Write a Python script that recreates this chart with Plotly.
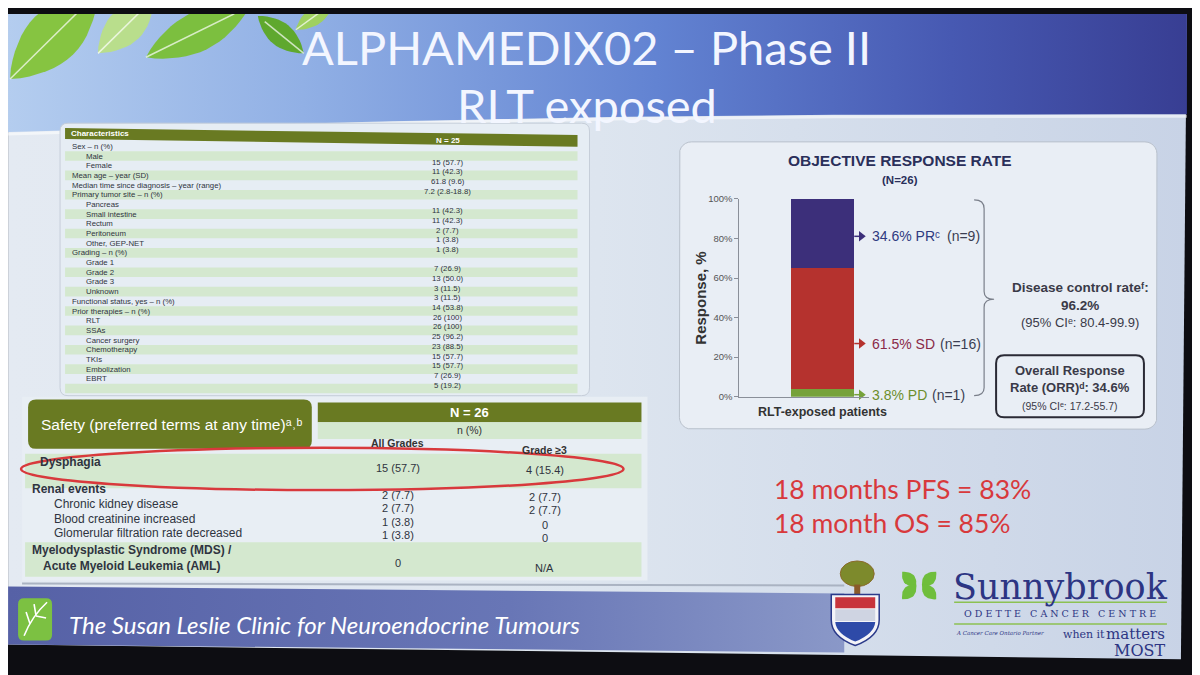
import math
import plotly.graph_objects as go

# ---------------- data ----------------
title_lines = ["ALPHAMEDIX02 – Phase II", "RLT exposed"]

char_header = ["Characteristics", "N = 25"]
char_labels = [
    "Sex – n (%)", "Male", "Female", "Mean age – year (SD)",
    "Median time since diagnosis – year (range)", "Primary tumor site – n (%)",
    "Pancreas", "Small intestine", "Rectum", "Peritoneum", "Other, GEP-NET",
    "Grading – n (%)", "Grade 1", "Grade 2", "Grade 3", "Unknown",
    "Functional status, yes – n (%)", "Prior therapies – n (%)",
    "RLT", "SSAs", "Cancer surgery", "Chemotherapy", "TKIs", "Embolization", "EBRT",
]
# on the slide the values sit one line lower than their labels, so one extra row
char_values = [
    "", "", "15 (57.7)", "11 (42.3)", "61.8 (9.6)", "7.2 (2.8-18.8)",
    "", "11 (42.3)", "11 (42.3)", "2 (7.7)", "1 (3.8)", "1 (3.8)",
    "", "7 (26.9)", "13 (50.0)", "3 (11.5)", "3 (11.5)", "14 (53.8)",
    "26 (100)", "26 (100)", "25 (96.2)", "23 (88.5)", "15 (57.7)", "15 (57.7)",
    "7 (26.9)", "5 (19.2)",
]

safety_title = "Safety (preferred terms at any time)ᵃ˒ᵇ"
safety_n = "N = 26"
safety_cols = ["All Grades", "Grade ≥3"]
safety_terms = [
    "Dysphagia", "Renal events", "Chronic kidney disease",
    "Blood creatinine increased", "Glomerular filtration rate decreased",
    "Myelodysplastic Syndrome (MDS) /<br>Acute Myeloid Leukemia (AML)",
]
safety_all = ["15 (57.7)", "2 (7.7)", "2 (7.7)", "1 (3.8)", "1 (3.8)", "0"]
safety_g3 = ["4 (15.4)", "2 (7.7)", "2 (7.7)", "0", "0", "N/A"]

orr_group = ["RLT-exposed patients"]
orr_types = ["PD", "SD", "PR"]
orr_pct = [3.8, 61.5, 34.6]
orr_n = [1, 16, 9]
orr_ticks = [0, 20, 40, 60, 80, 100]
dcr = "96.2%"
dcr_ci = "80.4-99.9"
orr_rate = "34.6%"
orr_ci = "17.2-55.7"

pfs_18 = "83%"
os_18 = "85%"

# ---------------- styling ----------------
BODY = "Liberation Sans"
TITLE = "Lato"
SERIF = "DejaVu Serif"
OLIVE = "#697a22"
STRIPE = "#d4e8cf"
INK = "#2f3440"
bar_colors = {"PD": "#76a23a", "SD": "#b5322e", "PR": "#3c2f7a"}
label_colors = {"PD": "#6e8e2c", "SD": "#8a2a48", "PR": "#2f3a80"}

# the page is photographed with an 8px body margin and squeezed back to 1200 wide,
# so the full-canvas overlay axis is set up to land on screen pixels
SC = 1200 / 1216


def dom_x(p):
    return (p / SC - 8) / 1200


def dom_y(p):
    return 1 - (p - 8) / 675


fig = go.Figure()
shapes = []
anns = []


def poly(xs, ys, color=None, grad=None, line=None, lw=0):
    tr = dict(x=xs, y=ys, mode="lines", fill="toself", hoverinfo="skip",
              showlegend=False, line=dict(width=lw, color=line or "rgba(0,0,0,0)"),
              xaxis="x", yaxis="y")
    if grad:
        tr["fillgradient"] = dict(type="horizontal", colorscale=grad)
    else:
        tr["fillcolor"] = color
    fig.add_trace(go.Scatter(**tr))


def rr_pts(x0, y0, x1, y1, r, n=6):
    xs, ys = [], []
    for cx, cy, a0 in [(x1 - r, y0 + r, -90), (x1 - r, y1 - r, 0),
                       (x0 + r, y1 - r, 90), (x0 + r, y0 + r, 180)]:
        for k in range(n + 1):
            a = math.radians(a0 + 90 * k / n)
            xs.append(cx + r * math.cos(a))
            ys.append(cy + r * math.sin(a))
    return xs + [xs[0]], ys + [ys[0]]


def rr_path(x0, y0, x1, y1, r):
    return (f"M{x0+r},{y0} L{x1-r},{y0} Q{x1},{y0} {x1},{y0+r} L{x1},{y1-r} "
            f"Q{x1},{y1} {x1-r},{y1} L{x0+r},{y1} Q{x0},{y1} {x0},{y1-r} "
            f"L{x0},{y0+r} Q{x0},{y0} {x0+r},{y0} Z")


def leaf_pts(x0, y0, x1, y1, w, n=16):
    L = math.hypot(x1 - x0, y1 - y0)
    ux, uy = (x1 - x0) / L, (y1 - y0) / L
    nx, ny = -uy, ux
    xs, ys = [], []
    for side in (1, -1):
        ks = range(n + 1) if side == 1 else range(n, -1, -1)
        for k in ks:
            t = k / n
            h = w / 2 * math.sin(math.pi * t) ** 0.85
            xs.append(x0 + ux * L * t + side * nx * h)
            ys.append(y0 + uy * L * t + side * ny * h)
    return xs, ys


def rect(x0, y0, x1, y1, fill, line=None, lw=0):
    shapes.append(dict(type="rect", xref="x", yref="y", x0=x0, y0=y0, x1=x1, y1=y1,
                       fillcolor=fill, layer="above",
                       line=dict(width=lw, color=line or "rgba(0,0,0,0)")))


def path(d, fill=None, line=None, lw=0):
    shapes.append(dict(type="path", xref="x", yref="y", path=d, layer="above",
                       fillcolor=fill or "rgba(0,0,0,0)",
                       line=dict(width=lw, color=line or "rgba(0,0,0,0)")))


def hline(x0, x1, y0, y1, color, w):
    shapes.append(dict(type="line", xref="x", yref="y", x0=x0, x1=x1, y0=y0, y1=y1,
                       line=dict(color=color, width=w), layer="above"))


def txt(x, y, s, size, color, anchor="left", family=BODY, bold=False, italic=False, **kw):
    anns.append(dict(x=x, y=y, xref="x", yref="y", text=s, showarrow=False,
                     xanchor=anchor, yanchor="middle",
                     font=dict(size=size, color=color, family=family,
                               weight="bold" if bold else "normal",
                               style="italic" if italic else "normal"), **kw))


# ---------------- slide background ----------------
poly([8, 1188, 1182, 8, 8], [0, 0, 664, 649, 0],
     grad=[[0, "#e4eaf2"], [0.5, "#dde5ef"], [1, "#c8d3e6"]])

# title band with curved lower edge
bx = [8 + 1180 * k / 40 for k in range(41)]
by = [128 - 18 * (x - 8) / 1180 - 6 * math.sin(math.pi * (x - 8) / 1180) for x in bx]
poly([8] + bx + [1188, 8], [0] + by + [0, 0],
     grad=[[0, "#b4cdef"], [0.25, "#91b0e5"], [0.55, "#6283d2"],
           [0.8, "#4759b2"], [1, "#383e93"]])
fig.add_trace(go.Scatter(x=bx, y=[v + 2 for v in by], mode="lines", hoverinfo="skip",
                         showlegend=False, line=dict(color="rgba(255,255,255,0.55)", width=3)))

# leaves top-left
for x0, y0, x1, y1, w, c in [(10, 74, 98, -14, 54, "#86c441"),
                             (98, 48, 154, -8, 36, "#b9de8c"),
                             (146, 52, 250, 0, 40, "#7cbf3f"),
                             (304, 48, 258, 10, 24, "#5fa82e"),
                             (296, 24, 334, -4, 18, "#9fd060")]:
    xs, ys = leaf_pts(x0, y0, x1, y1, w)
    poly(xs, ys, color=c)
    fig.add_trace(go.Scatter(x=[x0, x0 + (x1 - x0) * 0.85], y=[y0, y0 + (y1 - y0) * 0.85],
                             mode="lines", hoverinfo="skip", showlegend=False,
                             line=dict(color="rgba(255,255,255,0.7)", width=1.5)))

for i, s in enumerate(title_lines):
    txt(587, 42 + 58 * i, s, 47, "#f3f6ff", anchor="center", family=TITLE)

# footer band
poly([8, 845, 845, 8, 8], [590, 597, 657, 649, 590],
     grad=[[0, "#5661a6"], [0.6, "#6876b6"], [1, "#8a98c8"]])

# ORR card (sits under the bar subplot)
xs, ys = rr_pts(680, 138, 1158, 430, 12)
poly(xs, ys, color="#e9eef5", line="#b9c1cc", lw=1)

# ---------------- characteristics table ----------------
path(rr_path(60, 119, 590, 396, 8), fill="#e6edf4", line="#c6ced9", lw=1)
row0, step = 142.5, 9.85
for i in range(len(char_values)):
    if i % 2 == 1:
        rect(65, row0 + step * i - 4.9, 578, row0 + step * i + 4.9, STRIPE)
path("M65,124 L578,131 L578,143 L65,135 Z", fill=OLIVE)
txt(69, 129.5, char_header[0], 8, "white", bold=True)
txt(448, 136.5, char_header[1], 8, "white", anchor="center", bold=True)
for i, lab in enumerate(char_labels):
    indent = 0 if " – " in lab else 14
    txt(70 + indent, row0 + step * i, lab, 7.8, INK)
for i, v in enumerate(char_values):
    if v:
        txt(448, row0 + step * i - 3.5, v, 7.8, INK, anchor="center")

# ---------------- safety table ----------------
rect(22, 397, 648, 584, "#e8eef4")
hline(22, 845, 587, 589, "#aab3c2", 2)
path(rr_path(28, 400, 312, 450, 8), fill=OLIVE)
txt(172, 425, safety_title, 15.5, "white", anchor="center")
rect(318, 403, 642, 423, OLIVE)
txt(470, 413, safety_n, 13, "white", anchor="center", bold=True)
rect(318, 423, 642, 440, STRIPE)
txt(470, 431, "n (%)", 10.5, "#333", anchor="center")
txt(398, 444, safety_cols[0], 10.5, "#333", anchor="center", bold=True)
txt(545, 451, safety_cols[1], 10.5, "#333", anchor="center", bold=True)
rect(25, 455, 642, 490, STRIPE)
rect(25, 545, 642, 580, STRIPE)

term_x = [38, 30, 52, 52, 52, 30]
term_y = [463, 491, 506, 521, 536, 561]
all_y = [470, 497, 510, 524, 538, 566]
g3_y = [472, 499, 512, 527, 541, 571]
for i, term in enumerate(safety_terms):
    txt(term_x[i], term_y[i], term, 12, INK, bold=term_x[i] < 40)
    txt(398, all_y[i], safety_all[i], 11, INK, anchor="center")
    txt(545, g3_y[i], safety_g3[i], 11, INK, anchor="center")

shapes.append(dict(type="circle", xref="x", yref="y", x0=21, x1=624, y0=449, y1=492,
                   line=dict(color="#d8393c", width=2.5), layer="above"))

# ---------------- ORR chart ----------------
for t, p in zip(orr_types, orr_pct):
    fig.add_trace(go.Bar(x=orr_group, y=[p], width=0.49, xaxis="x2", yaxis="y2",
                         marker=dict(color=bar_colors[t], line=dict(width=0)),
                         showlegend=False, hoverinfo="skip"))

txt(901, 157, "OBJECTIVE RESPONSE RATE", 15.5, "#2a2f5a", anchor="center", bold=True)
txt(901, 177, "(N=26)", 11.5, "#2a2f5a", anchor="center", bold=True)
txt(701, 297, "Response, %", 15, "#333", anchor="center", bold=True, textangle=-90)

# pointer labels beside the bar
label_py = [395, 343, 234]
count_px = [931, 939, 946]
for t, p, n, ly, cx in zip(orr_types, orr_pct, orr_n, label_py, count_px):
    sup = "ᶜ" if t == "PR" else ""
    fig.add_trace(go.Scatter(x=[862], y=[ly], mode="markers", hoverinfo="skip",
                             showlegend=False, xaxis="x", yaxis="y",
                             marker=dict(symbol="triangle-right", size=9,
                                         color=bar_colors[t])))
    hline(855, 860, ly, ly, bar_colors[t], 1.5)
    txt(871, ly, f"{p}% {t}{sup}", 14, label_colors[t])
    txt(cx, ly, f"(n={n})", 14, "#3b3e52")

path("M975,197 Q985,197 985,206 L985,290 Q985,298 995,298 Q985,298 985,306 "
     "L985,388 Q985,396 975,396", line="#7a7f8a", lw=1.2)
txt(1081, 286, "Disease control rateᶠ:", 13.5, "#3a3a48", anchor="center", bold=True)
txt(1081, 304, dcr, 13.5, "#3a3a48", anchor="center", bold=True)
txt(1081, 322, f"(95% CIᵉ: {dcr_ci})", 13, "#3a3a48", anchor="center")
path(rr_path(997, 355, 1145, 418, 8), line="#2a2a35", lw=2)
txt(1071, 370, "Overall Response", 13, "#3a3a48", anchor="center", bold=True)
txt(1071, 388, f"Rate (ORR)ᵈ: {orr_rate}", 13, "#3a3a48", anchor="center", bold=True)
txt(1071, 406, f"(95% CIᵉ: {orr_ci})", 10.5, "#3a3a48", anchor="center")

# survival call-outs
txt(773, 491, f"18 months PFS = {pfs_18}", 26.5, "#d8393c", family=TITLE)
txt(773, 525, f"18 month OS = {os_18}", 26.5, "#d8393c", family=TITLE)

# ---------------- footer ----------------
path(rr_path(18, 602, 52, 645, 6), fill="#7cc142")
shapes.append(dict(type="path", xref="x", yref="y", layer="above",
                   path="M24,640 Q32,620 47,606 M30,628 L26,616 M36,620 L34,608 M36,620 L46,622",
                   line=dict(color="white", width=1.6)))
txt(67, 629, "The Susan Leslie Clinic for Neuroendocrine Tumours", 24, "white",
    family=TITLE, italic=True)

# crest
shapes.append(dict(type="circle", xref="x", yref="y", x0=841, x1=875, y0=564, y1=590,
                   fillcolor="#7d8a2c", line=dict(color="#8a6a2a", width=1), layer="above"))
rect(855, 588, 861, 598, "#8a5a2a")
path("M832,598 L880,598 L880,624 Q880,641 856,650 Q832,641 832,624 Z",
     fill="#f4f4f8", line="#2b3a8a", lw=1.5)
rect(836, 601, 876, 612, "#c8343c")
rect(836, 613, 876, 625, "#cfd4e2")
path("M836,626 L876,626 Q875,638 856,646 Q837,638 836,626 Z", fill="#2e4aa8")

# Sunnybrook logo
for x0, y0, x1, y1 in [(903, 575, 917, 590), (937, 575, 923, 590),
                       (903, 603, 917, 588), (937, 603, 923, 588)]:
    xs, ys = leaf_pts(x1, y1, x0, y0, 12)
    poly(xs, ys, color="#6fbe3c")
txt(1061, 590, "Sunnybrook", 35, "#2d3583", anchor="center", family=SERIF)
hline(955, 1168, 606, 606, "#8cc152", 1.5)
hline(955, 1168, 628, 628, "#8cc152", 1.5)
occ = "\u00a0\u00a0 ".join(" ".join(w) for w in "ODETTE CANCER CENTRE".split())
txt(1061, 617, occ, 9.5, "#2d3583", anchor="center", family=SERIF)
txt(955, 637, "A Cancer Care Ontario Partner", 5.5, "#2d3583", family=SERIF, italic=True)
txt(1108, 639, "when it", 11, "#2d3583", anchor="right", family=SERIF)
txt(1168, 638, "matters", 15, "#2d3583", anchor="right", family=SERIF)
txt(1168, 655, "MOST", 16, "#2d3583", anchor="right", family=SERIF)

# ---------------- layout ----------------
fig.update_layout(
    width=1200, height=675,
    margin=dict(l=0, r=0, t=0, b=0),
    paper_bgcolor="#0d0d12",
    plot_bgcolor="rgba(0,0,0,0)",
    barmode="stack",
    shapes=shapes,
    annotations=anns,
    xaxis=dict(domain=[0, 1], range=[8 * SC, 1208 * SC], visible=False, fixedrange=True),
    yaxis=dict(domain=[0, 1], range=[683, 8], visible=False, fixedrange=True),
    xaxis2=dict(domain=[dom_x(740), dom_x(870)], anchor="y2", type="category",
                range=[-0.64, 0.36], showline=True, linecolor="#8a8f99", ticks="",
                tickvals=orr_group, ticktext=orr_group,
                tickfont=dict(size=12.5, color="#333", family=BODY, weight="bold"),
                ticklabelstandoff=3),
    yaxis2=dict(domain=[dom_y(397), dom_y(196)], anchor="x2", range=[0, 100],
                tickvals=orr_ticks, ticktext=[f"{v}%" for v in orr_ticks],
                ticks="outside", ticklen=4, tickcolor="#8a8f99", showline=True,
                linecolor="#8a8f99", showgrid=False, zeroline=False,
                tickfont=dict(size=9.5, color="#555", family=BODY)),
    font=dict(family=BODY),
)

fig.write_html("out.html")
